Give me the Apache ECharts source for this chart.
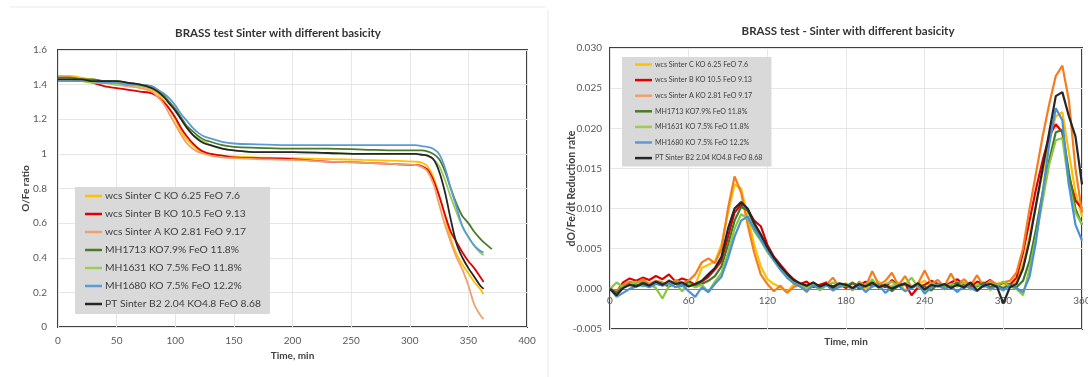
<!DOCTYPE html>
<html><head><meta charset="utf-8">
<script src="https://cdn.jsdelivr.net/npm/echarts@6/dist/echarts.min.js"></script>
<style>html,body{margin:0;padding:0;background:#fff}#c{width:1088px;height:377px}</style>
</head><body><div id="c"></div>
<script>
// ---------- series names ----------
const seriesNames = [
  'wcs Sinter C KO 6.25 FeO 7.6',
  'wcs Sinter B KO 10.5 FeO 9.13',
  'wcs Sinter A KO 2.81 FeO 9.17',
  'MH1713 KO7.9% FeO 11.8%',
  'MH1631 KO 7.5% FeO 11.8%',
  'MH1680 KO 7.5% FeO 12.2%',
  'PT Sinter B2 2.04 KO4.8 FeO 8.68'
];

// ---------- left chart: O/Fe ratio vs time ----------
const timeLeft = [0,10,20,30,40,50,60,70,80,85,90,95,100,105,110,115,120,125,130,140,150,170,200,230,260,290,305,310,315,320,325,330,335,340,345,350,355,360,363,370];
const ratioC = [1.45,1.45,1.44,1.43,1.42,1.41,1.40,1.39,1.37,1.35,1.31,1.26,1.20,1.13,1.08,1.05,1.02,1.01,1.00,0.99,0.985,0.98,0.975,0.97,0.965,0.96,0.955,0.95,0.93,0.87,0.76,0.64,0.51,0.42,0.36,0.31,0.26,0.22,0.19,null];
const ratioB = [1.44,1.44,1.43,1.41,1.39,1.38,1.37,1.36,1.35,1.33,1.30,1.26,1.21,1.15,1.10,1.06,1.03,1.01,1.00,0.99,0.98,0.975,0.97,0.955,0.95,0.94,0.935,0.93,0.91,0.85,0.76,0.65,0.55,0.49,0.43,0.38,0.34,0.29,0.26,null];
const ratioA = [1.45,1.44,1.43,1.42,1.41,1.40,1.39,1.38,1.36,1.33,1.29,1.23,1.17,1.11,1.06,1.03,1.01,1.00,0.99,0.98,0.975,0.97,0.965,0.955,0.95,0.94,0.935,0.925,0.90,0.83,0.71,0.59,0.49,0.40,0.33,0.24,0.13,0.07,0.045,null];
const ratioMH1713 = [1.44,1.44,1.43,1.43,1.42,1.42,1.41,1.40,1.39,1.37,1.34,1.30,1.26,1.21,1.16,1.13,1.10,1.08,1.07,1.05,1.04,1.035,1.03,1.03,1.025,1.02,1.02,1.02,1.015,1.00,0.97,0.90,0.80,0.71,0.64,0.60,0.55,0.51,0.49,0.45];
const ratioMH1631 = [1.43,1.43,1.42,1.41,1.41,1.40,1.40,1.39,1.38,1.36,1.33,1.29,1.25,1.20,1.15,1.11,1.09,1.07,1.05,1.03,1.02,1.01,1.01,1.005,1.00,1.00,1.00,0.995,0.99,0.97,0.93,0.85,0.75,0.66,0.58,0.52,0.47,0.43,0.415,null];
const ratioMH1680 = [1.42,1.42,1.42,1.42,1.41,1.41,1.40,1.40,1.39,1.37,1.35,1.32,1.28,1.23,1.19,1.15,1.12,1.10,1.09,1.07,1.06,1.055,1.05,1.05,1.05,1.05,1.05,1.045,1.04,1.03,1.00,0.92,0.80,0.69,0.58,0.52,0.47,0.44,0.43,null];
const ratioPT = [1.43,1.43,1.43,1.42,1.42,1.42,1.41,1.40,1.38,1.36,1.33,1.29,1.25,1.20,1.15,1.11,1.08,1.06,1.05,1.03,1.02,1.01,1.01,1.005,1.00,1.00,1.00,0.995,0.99,0.97,0.90,0.78,0.62,0.48,0.40,0.34,0.29,0.24,0.22,null];

// ---------- right chart: reduction rate vs time ----------
const timeRight = [0,5,10,15,20,25,30,35,40,45,50,55,60,65,70,75,80,85,90,95,100,105,110,115,120,125,130,135,140,145,150,155,160,165,170,175,180,185,190,195,200,205,210,215,220,225,230,235,240,245,250,255,260,265,270,275,280,285,290,295,300,305,310,315,320,325,330,335,340,345,350,355,360];
const rateC = [0,-0.0006,0.0004,0.0008,0.0006,0.001,0.0005,0.0009,0.0004,0.0011,
0.0006,0.0003,0.0009,0.0005,0.0026,0.003,0.0034,0.0055,0.0095,0.013,
0.0125,0.009,0.0055,0.0028,0.0012,0.0006,0.0002,-0.0004,0.0005,0.0003,
-0.0003,0.0006,0.0002,0.0008,-0.0002,0.0004,0.0007,0.0001,0.0005,-0.0001,
0.0006,0.0009,0.0002,0.0004,0.0008,-0.0002,0.0003,0.0006,0.001,0.0002,
0.0005,-0.0001,0.0007,0.0003,0.0008,0.0001,0.0004,0.0009,-0.0002,0.0005,
0.0006,0.0003,0.0009,0.003,0.0065,0.0105,0.0145,0.0185,0.0215,0.022,
0.017,0.012,0.009];
const rateB = [0,-0.0004,0.0008,0.0013,0.001,0.0014,0.0011,0.0016,0.0012,0.0018,
0.0009,0.0013,0.001,0.0005,0.0009,0.0015,0.0024,0.0035,0.0065,0.0095,
0.0105,0.0098,0.0085,0.0078,0.0055,0.004,0.003,0.002,0.0012,0.0006,
0.0009,0.0002,0.0005,0.0008,0.0003,0.0006,0.0001,0.0007,0.0004,0.0009,
0.0003,0.0006,0.0002,0.0011,0.0004,0.0007,-0.0008,0.0002,0.0005,0.001,
0.0006,0.0003,0.0008,0.0012,0.0005,0.0002,0.0009,0.0006,0.0011,0.0004,
0.0008,0.0005,0.0014,0.0045,0.0085,0.0125,0.016,0.019,0.0205,0.0195,
0.014,0.011,0.01];
const rateA = [0,-0.0003,0.0005,0.0009,0.0007,0.0012,0.0006,0.001,0.0008,0.0004,
0.0011,0.0007,0.001,0.0018,0.0033,0.0038,0.0032,0.005,0.01,0.014,
0.012,0.008,0.0045,0.0018,0.0006,-0.0003,0.0004,-0.0005,0.0002,0.0006,
-0.0004,0.0008,0.0001,0.0005,0.0014,0.0002,0.0006,-0.0002,0.0009,0.0003,
0.0022,0.0005,0.001,0.002,0.0004,0.0016,0.0002,0.0007,0.0023,0.0006,
0.0011,0.0003,0.0019,0.0005,0.0012,0.0004,0.0017,0.0003,0.001,0.0006,
0.0008,0.001,0.002,0.005,0.01,0.0145,0.019,0.023,0.0265,0.0278,
0.0235,0.015,0.0095];
const rateMH1713 = [0,-0.0005,0.0002,0.0006,0.0004,0.0008,0.0005,0.0009,0.0006,0.0003,
0.0007,0.0004,0.0008,0.0003,0.0006,0.001,0.0016,0.0028,0.0055,0.0085,
0.0102,0.0098,0.008,0.0065,0.005,0.0038,0.0026,0.0018,0.001,0.0006,
0.0003,0.0007,0.0002,0.0005,0.0001,0.0006,0.0003,0.0008,0,0.0004,
0.0006,0.0002,0.0005,-0.0003,0.0004,0.0007,0.0001,0.0005,0.0003,-0.0002,
0.0006,0.0002,0.0004,0.0008,0.0001,0.0005,0.0003,0.0007,0.0002,0.0004,
0.0001,0.0005,0.0002,0.001,0.0035,0.0075,0.012,0.016,0.0195,0.0198,
0.0145,0.01,0.008];
const rateMH1631 = [0,0.0008,0.0002,0.0005,0.0009,0.0003,0.0006,0.0001,-0.0012,0.0004,
0.0007,-0.0003,0.0006,0.0002,0.0005,-0.0004,0.0009,0.002,0.0045,0.0075,
0.0093,0.0088,0.0072,0.006,0.0046,0.0035,0.0024,0.0015,0.0008,0.0004,
0.0001,0.0006,-0.0002,0.0004,0.0008,0.0002,0.0005,-0.0001,0.0007,0.0003,
0.0012,0.0001,0.0006,0.0009,0.0003,0.0005,0.0014,0.0002,-0.0002,0.0007,
0.0004,0.0001,0.0006,0.0003,0.0008,-0.0001,0.0005,0.0002,0.0007,0.0004,
0.0009,0.0003,0,-0.0008,0.0025,0.0065,0.011,0.0155,0.0185,0.0188,
0.013,0.0095,0.008];
const rateMH1680 = [0,-0.001,-0.0005,0,0.0003,0.0005,0.0002,0.0006,0.0004,0.0007,
0.0002,0.0005,-0.0003,-0.001,0.0002,-0.0004,0.0006,0.0015,0.0038,0.0065,
0.0085,0.009,0.0075,0.0062,0.0048,0.0036,0.0024,0.0014,0.0007,0.0003,
-0.0003,0.0004,0.0001,0.0005,-0.0002,0.0003,0.0006,0,0.0004,-0.0004,
0.0003,0.0005,-0.0005,0.0002,0.0004,-0.0003,0.0001,0.0006,-0.0006,0.0002,
0.0005,0,0.0003,-0.0004,0.0004,0.0001,-0.0003,0.0005,0,0.0003,
-0.0002,0.0004,0.0001,-0.0004,0.0015,0.006,0.012,0.018,0.0225,0.021,
0.013,0.008,0.006];
const ratePT = [0,-0.0008,0.0001,0.0005,0.0003,0.0007,0.0004,0.0009,0.0005,0.001,
0.0006,0.0008,0.0003,0.0006,0.001,0.0018,0.0026,0.004,0.0075,0.01,
0.0108,0.01,0.0082,0.0068,0.0052,0.0039,0.0028,0.0019,0.0011,0.0007,
0.0004,0.0008,0.0003,0.0006,0.0002,0.0007,0.0005,0.0001,0.0006,0.0003,
0.0008,0.0002,0.0005,0,0.0004,0.0006,0.0002,0.0007,-0.0001,0.0005,
0.0003,0.0006,0.0001,0.0005,0.0002,0.0008,-0.0002,0.0004,0.0006,0.0003,
-0.0018,0.0002,0.0006,0.0025,0.006,0.0105,0.015,0.0195,0.024,0.0245,
0.0215,0.019,0.013];

// ---------- tick settings ----------
const leftXTicks = {min: 0, max: 400, interval: 50};
const leftYTicks = {min: 0, max: 1.6, interval: 0.2};
const rightXTicks = {min: 0, max: 360, interval: 60};
const rightYTicks = {min: -0.005, max: 0.030, interval: 0.005};

// ---------- styling ----------
const colorsLeft  = ['#FFC000', '#E00000', '#F0A070', '#4A7A2A', '#9CCB5A', '#5B9BD5', '#262626'];
const colorsRight = ['#FFC000', '#E00000', '#F57C1F', '#3E7A2A', '#8CC63F', '#4A90D9', '#262626'];
const ratioSets = [ratioC, ratioB, ratioA, ratioMH1713, ratioMH1631, ratioMH1680, ratioPT];
const rateSets  = [rateC, rateB, rateA, rateMH1713, rateMH1631, rateMH1680, ratePT];

const FONT = 'Lato, "Open Sans", sans-serif';
const pairs = (xs, ys) => xs.map((x, i) => [x, ys[i]]).filter(p => p[1] !== null && p[1] !== undefined);

const series = [];
ratioSets.forEach((arr, i) => series.push({
  name: seriesNames[i], type: 'line', xAxisIndex: 0, yAxisIndex: 0,
  data: pairs(timeLeft, arr), showSymbol: false, symbol: 'none', smooth: 0.35,
  lineStyle: {width: 1.8, color: colorsLeft[i]}, itemStyle: {color: colorsLeft[i]}, z: 2 + i * 0.01
}));
rateSets.forEach((arr, i) => series.push({
  name: seriesNames[i], type: 'line', xAxisIndex: 1, yAxisIndex: 1,
  data: pairs(timeRight, arr), showSymbol: false, symbol: 'none',
  lineStyle: {width: 2.2, color: colorsRight[i]}, itemStyle: {color: colorsLeft[i]}, z: 2 + i * 0.01
}));

const gridLine = {show: true, lineStyle: {color: '#E6E6E6', width: 1}};
const axisLbl = (size) => ({color: '#595959', fontSize: size, fontFamily: FONT});

// right grid geometry (the time axis is drawn across the plot at rate = 0)
const rightGrid = {left: 610, top: 48, width: 472, height: 281};
const zeroOffset = -rightGrid.height * (0 - rightYTicks.min) / (rightYTicks.max - rightYTicks.min);

const option = {
  backgroundColor: '#ffffff',
  animation: false,
  title: [
    {text: 'BRASS test Sinter with different basicity', left: 273, top: 22, textAlign: 'center',
     textStyle: {fontFamily: FONT, fontWeight: 'bold', fontSize: 11.5, color: '#333333'}},
    {text: 'BRASS test - Sinter with different basicity', left: 843, top: 20, textAlign: 'center',
     textStyle: {fontFamily: FONT, fontWeight: 'bold', fontSize: 11.5, color: '#333333'}}
  ],
  grid: [
    {left: 58, top: 50, width: 469, height: 277, show: true, borderColor: '#404040', borderWidth: 2,
     backgroundColor: 'transparent', outerBoundsMode: 'none', containLabel: false},
    Object.assign({show: true, borderColor: '#404040', borderWidth: 2,
     backgroundColor: 'transparent', outerBoundsMode: 'none', containLabel: false}, rightGrid)
  ],
  xAxis: [
    {type: 'value', gridIndex: 0, min: leftXTicks.min, max: leftXTicks.max, interval: leftXTicks.interval,
     name: 'Time, min', nameLocation: 'middle', nameGap: 24,
     nameTextStyle: {fontFamily: FONT, fontWeight: 'bold', fontSize: 10, color: '#404040'},
     axisLine: {show: false}, axisTick: {show: false},
     axisLabel: Object.assign(axisLbl(10), {margin: 9}), splitLine: gridLine},
    {type: 'value', gridIndex: 1, min: rightXTicks.min, max: rightXTicks.max, interval: rightXTicks.interval,
     position: 'bottom', offset: zeroOffset,
     name: 'Time, min', nameLocation: 'middle', nameGap: 48,
     nameTextStyle: {fontFamily: FONT, fontWeight: 'bold', fontSize: 10, color: '#404040'},
     axisLine: {show: true, onZero: false, lineStyle: {color: '#7F7F7F', width: 1}}, axisTick: {show: false},
     axisLabel: Object.assign(axisLbl(10), {margin: 7}), splitLine: gridLine}
  ],
  yAxis: [
    {type: 'value', gridIndex: 0, min: leftYTicks.min, max: leftYTicks.max, interval: leftYTicks.interval,
     name: 'O/Fe ratio', nameLocation: 'middle', nameGap: 27, nameMoveOverlap: false,
     nameTextStyle: {fontFamily: FONT, fontWeight: 'bold', fontSize: 10, color: '#404040'},
     axisLine: {show: false}, axisTick: {show: false},
     axisLabel: Object.assign(axisLbl(10), {margin: 11}), splitLine: gridLine},
    {type: 'value', gridIndex: 1, min: rightYTicks.min, max: rightYTicks.max, interval: rightYTicks.interval,
     name: 'dO/Fe/dt Reduction rate', nameLocation: 'middle', nameGap: 33, nameMoveOverlap: false,
     nameTextStyle: {fontFamily: FONT, fontWeight: 'bold', fontSize: 10.5, color: '#404040'},
     axisLine: {show: false}, axisTick: {show: false},
     axisLabel: Object.assign(axisLbl(10), {margin: 8, formatter: v => v.toFixed(3)}), splitLine: gridLine}
  ],
  legend: [
    {data: seriesNames, orient: 'vertical', left: 75, top: 187, icon: 'rect', itemWidth: 17, itemHeight: 2.5,
     itemGap: 4, backgroundColor: '#D9D9D9', padding: [2, 9, 3, 10], borderRadius: 0,
     selectedMode: false,
     textStyle: {fontFamily: FONT, fontSize: 10.3, color: '#404040', lineHeight: 14, padding: [0, 0, 0, -2]}},
    {data: seriesNames, orient: 'vertical', left: 622, top: 57, icon: 'rect', itemWidth: 17, itemHeight: 2.5,
     itemGap: 4.6, backgroundColor: '#D9D9D9', padding: [2, 9, 3, 13], borderRadius: 0,
     selectedMode: false,
     textStyle: {fontFamily: FONT, fontSize: 7.1, color: '#404040', lineHeight: 11, padding: [0, 0, 0, -2]}}
  ],
  graphic: [
    {type: 'line', shape: {x1: 10, y1: 7, x2: 545, y2: 7}, style: {stroke: '#E8E8E8', lineWidth: 1}, silent: true},
    {type: 'line', shape: {x1: 548, y1: 10, x2: 548, y2: 377}, style: {stroke: '#E8E8E8', lineWidth: 1}, silent: true}
  ],
  series: series
};

const chart = echarts.init(document.getElementById('c'), null, {renderer: 'canvas'});
chart.setOption(option);
</script></body></html>
